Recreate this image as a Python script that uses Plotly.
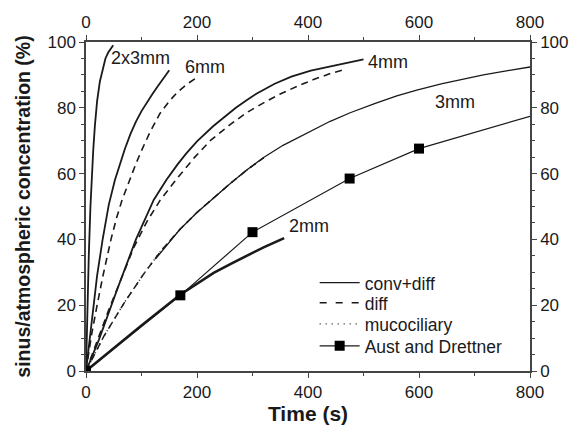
import plotly.graph_objects as go

# ---- data ----
t_2x3_conv = [0, 2, 5, 8, 10, 13, 16, 20, 25, 30, 35, 40, 45, 49]
y_2x3_conv = [0, 16, 35, 50, 58, 67, 74.5, 82, 88, 92, 95, 96.8, 98.2, 99]

t_6_conv = [0, 10, 20, 30, 41, 52, 60, 70, 80, 90, 100, 109, 120, 130, 140, 150]
y_6_conv = [0, 15.5, 29, 40, 50.5, 58, 62.5, 67.5, 72, 75.8, 79, 81.5, 84.3, 86.7, 89, 91.4]
t_6_diff = [0, 10, 20, 30, 45, 55, 65, 79, 90, 100, 115, 133, 150, 165, 182, 198]
y_6_diff = [0, 11, 20, 28.5, 40, 46.5, 52, 58.5, 63, 67, 72.5, 78.2, 82, 84.8, 87.2, 89]

t_4_conv = [0, 23, 56, 90, 122, 145, 165, 180, 200, 229, 250, 270, 290, 307, 340, 370, 405, 440, 470, 500]
y_4_conv = [0, 9.4, 24.7, 40, 52, 58.1, 62.8, 66, 69.8, 74.4, 77.3, 80, 82.4, 84.3, 87.3, 89.5, 91.3, 92.6, 93.7, 94.7]
t_4_diff = [0, 41, 86, 110, 134, 163, 196, 225, 259, 290, 325, 350, 380, 410, 440, 465]
y_4_diff = [0, 18.6, 37.5, 45.5, 52, 58.3, 65, 70.2, 74.8, 78.6, 82, 84.2, 86.5, 88.6, 90.4, 91.6]

t_3_conv = [125, 169, 200, 229, 260, 289, 320, 355, 400, 440, 476, 520, 560, 596, 640, 680, 716, 760, 800]
y_3_conv = [34, 43, 48.2, 52.5, 57, 61, 64.9, 68.6, 72.6, 75.9, 78.5, 81.3, 83.6, 85.4, 87.3, 88.8, 90, 91.3, 92.4]
t_3_diff = [0, 32, 68, 104, 135, 169, 200, 229, 260, 289, 320]
y_3_diff = [0, 10.5, 20.5, 29.5, 36.5, 43, 48.2, 52.5, 57, 61, 64.8]
t_3_muco = [0, 32, 68, 104, 135, 169, 200, 229, 260, 289, 326]
y_3_muco = [0, 10.5, 20.5, 29.5, 36.5, 43, 48.2, 52.5, 57, 61, 65.5]

t_2 = [0, 50, 100, 169, 200, 230, 260, 289, 320, 357]
y_2 = [0, 7, 13.8, 23.1, 26.6, 29.8, 32.5, 35, 37.6, 40.4]

t_aust = [0, 170, 300, 475, 600, 800]
y_aust = [0, 23, 42.2, 58.5, 67.6, 77.4]
aust_marker = [10, 10, 10, 10, 10, 0]

labels = ["2x3mm", "6mm", "4mm", "3mm", "2mm"]
label_t = [98, 214, 544, 664, 401]
label_y = [95.2, 92.5, 93.8, 81.9, 44.1]

xticks = [0, 200, 400, 600, 800]
yticks = [0, 20, 40, 60, 80, 100]

INK = "#1a1a1a"
AX = "#444444"
FONT = "Liberation Sans, Arial, sans-serif"
DASH = "7px,5px"
DOT = "1px,4px"

fig = go.Figure()

def line(t, y, dash="solid", width=1.6):
    fig.add_trace(go.Scatter(x=t, y=y, mode="lines", showlegend=False,
                             line=dict(color=INK, width=width, dash=dash),
                             hoverinfo="skip"))

line(t_2x3_conv, y_2x3_conv, width=1.8)
line(t_6_conv, y_6_conv, width=1.8)
line(t_6_diff, y_6_diff, dash=DASH, width=1.6)
line(t_4_conv, y_4_conv, width=1.8)
line(t_4_diff, y_4_diff, dash=DASH, width=1.6)
line(t_3_diff, y_3_diff, dash=DASH, width=1.5)
line(t_3_muco, y_3_muco, dash=DOT, width=1.5)
line(t_3_conv, y_3_conv, width=1.3)
line(t_2, y_2, width=2.6)

fig.add_trace(go.Scatter(x=t_aust, y=y_aust, mode="lines+markers", showlegend=False,
                         line=dict(color=INK, width=1.2),
                         marker=dict(symbol="square", size=aust_marker, color="#000000",
                                     opacity=1, line=dict(width=0)),
                         hoverinfo="skip"))

# legend entries (one legend each, for exact spacing)
leg_names = ["conv+diff", "diff", "mucociliary", "Aust and Drettner"]
leg_dash = ["solid", "7px,9px", "1px,5px", "solid"]
leg_y = [0.268, 0.207, 0.143, 0.076]
for i, (nm, ds) in enumerate(zip(leg_names, leg_dash)):
    lg = "legend" if i == 0 else f"legend{i+1}"
    if nm == "Aust and Drettner":
        fig.add_trace(go.Scatter(x=[None], y=[None], mode="lines+markers", name=nm, legend=lg,
                                 line=dict(color=INK, width=1.3),
                                 marker=dict(symbol="square", size=10, color="#000000",
                                             line=dict(width=0))))
    else:
        fig.add_trace(go.Scatter(x=[None], y=[None], mode="lines", name=nm, legend=lg,
                                 line=dict(color=INK, width=1.3, dash=ds)))

# dummy on secondary axes so they render
fig.add_trace(go.Scatter(x=[None], y=[None], xaxis="x2", yaxis="y2", showlegend=False))

for lab, lt, ly in zip(labels, label_t, label_y):
    fig.add_annotation(x=lt, y=ly, text=lab, showarrow=False, xanchor="center", yanchor="middle",
                       font=dict(size=18, color=INK, family=FONT))

axcommon = dict(showgrid=False, zeroline=False, showline=True, linecolor=AX, linewidth=1.5,
                ticks="outside", ticklen=5, tickwidth=1.3, tickcolor=AX, automargin=False,
                tickfont=dict(size=17, color=INK, family=FONT))

legcommon = dict(xanchor="left", yanchor="middle", bgcolor="rgba(0,0,0,0)",
                 font=dict(size=17.5, color=INK, family=FONT), itemwidth=40)

layout = dict(
    width=572, height=434,
    margin=dict(l=86, r=42, t=42, b=63),
    plot_bgcolor="white", paper_bgcolor="white",
    font=dict(family=FONT, color=INK),
    xaxis=dict(range=[0, 800], tickvals=xticks, ticktext=[str(v) for v in xticks],
               minor=dict(dtick=100, ticklen=3, ticks="outside", tickcolor=AX, tickwidth=1.2),
               title=dict(text="<b>Time (s)</b>", font=dict(size=21, color=INK, family=FONT), standoff=3),
               **axcommon),
    yaxis=dict(range=[0, 100], tickvals=yticks, ticktext=[str(v) for v in yticks],
               minor=dict(dtick=5, ticklen=3, ticks="outside", tickcolor=AX, tickwidth=1.2),
               title=dict(text="<b>sinus/atmospheric concentration (%)</b>",
                          font=dict(size=19.5, color=INK, family=FONT), standoff=12),
               **axcommon),
    xaxis2=dict(range=[0, 800], overlaying="x", side="top", anchor="y",
                tickvals=xticks, ticktext=[str(v) for v in xticks],
                minor=dict(dtick=100, ticklen=3, ticks="outside", tickcolor=AX, tickwidth=1.2),
                **axcommon),
    yaxis2=dict(range=[0, 100], overlaying="y", side="right", anchor="x",
                tickvals=yticks, ticktext=[str(v) for v in yticks],
                minor=dict(dtick=5, ticklen=3, ticks="outside", tickcolor=AX, tickwidth=1.2),
                **axcommon),
    showlegend=True,
)
for i, ly in enumerate(leg_y):
    key = "legend" if i == 0 else f"legend{i+1}"
    layout[key] = dict(x=0.515, y=ly, **legcommon)

fig.update_layout(**layout)
fig.write_html("out.html")
